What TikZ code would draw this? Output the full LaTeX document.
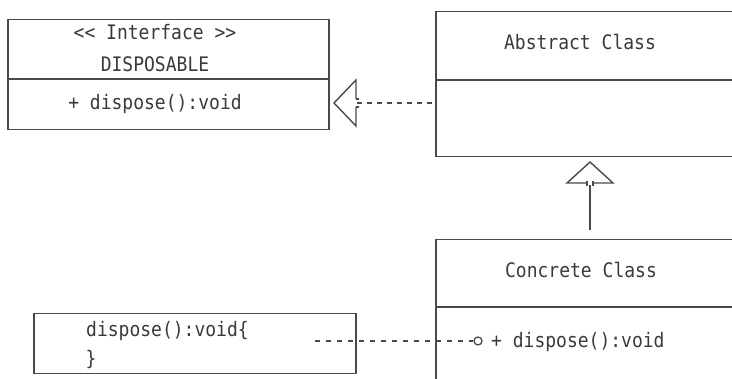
\documentclass[tikz,border=0pt]{standalone}
\usepackage{fontspec}
\newfontfamily\umlfont{DejaVu Sans Mono}[FakeStretch=0.9]
\definecolor{ink}{HTML}{4A4A4A}
\definecolor{txt}{HTML}{3A3A3A}
\tikzset{
  umlbox/.style={draw=ink, line width=1.5pt, anchor=north west, inner sep=0pt},
  divider/.style={draw=ink, line width=1.5pt},
  label/.style={text=txt, font=\umlfont\fontsize{20}{24}\selectfont, inner sep=0pt},
  solidline/.style={draw=ink, line width=1.5pt},
  depline/.style={draw=ink, line width=1.5pt, dash pattern=on 5pt off 5pt},
  headline/.style={draw=ink, line width=1.4pt, line join=miter},
}
\begin{document}
\begin{tikzpicture}[x=1pt, y=-1pt]
\useasboundingbox (0,0) rectangle (732,379);
\begin{scope}
\clip (0,0) rectangle (732,379);

% interface DISPOSABLE
\node[umlbox, minimum width=321pt, minimum height=110pt] (iface) at (7,19) {};
\draw[divider] (7,79) -- (328,79);
\node[label, anchor=base] (ifstereo) at (155,40) {<< Interface >>};
\node[label, anchor=base] (ifname) at (155,72) {DISPOSABLE};
\node[label, anchor=base] (ifop) at (155,110) {+ dispose():void};

% abstract class
\node[umlbox, minimum width=310pt, minimum height=145pt] (abs) at (435,11) {};
\draw[divider] (435,80) -- (745,80);
\node[label, anchor=base] (absname) at (580,50) {Abstract Class};

% concrete class
\node[umlbox, minimum width=310pt, minimum height=160pt] (conc) at (435,239) {};
\draw[divider] (435,307) -- (745,307);
\node[label, anchor=base] (concname) at (581,278) {Concrete Class};
\node[label, anchor=base west] (concop) at (491,348) {+ dispose():void};

% implementation note
\node[umlbox, minimum width=322pt, minimum height=60pt] (impl) at (33,313) {};
\node[label, anchor=base west] (implhead) at (86,337) {dispose():void\{};
\node[label, anchor=center] (impltail) at (91,360) {\}};

% realization: abstract class -> interface
\coordinate (rtip) at (334,103);
\coordinate (rback) at (356,103);
\draw[depline] (abs.west |- rback) ++(-3,0) -- (rback);
\draw[headline] (356,99) -- (356,80) -- (rtip) -- (356,126) -- (356,107);
\draw[headline] (356,99) -- (359,99) (356,107) -- (359,107);

% generalization: concrete class -> abstract class
\coordinate (gtip) at (590,162);
\coordinate (gback) at (590,185);
\draw[solidline] (conc.north -| gback) ++(0,-9) -- (gback);
\draw[headline] (587,183) -- (567,183) -- (gtip) -- (613,183) -- (593,183);
\draw[headline] (587,181) -- (587,186) (593,181) -- (593,186);

% note attached to the dispose operation
\node[draw=ink, line width=1.3pt, circle, minimum size=8pt, inner sep=0pt, fill=white] (lolli) at (478,341) {};
\coordinate (notestart) at (315,341);
\draw[depline, dash pattern=on 5pt off 6pt] (notestart) -- (lolli.west);
\end{scope}
\end{tikzpicture}
\end{document}
